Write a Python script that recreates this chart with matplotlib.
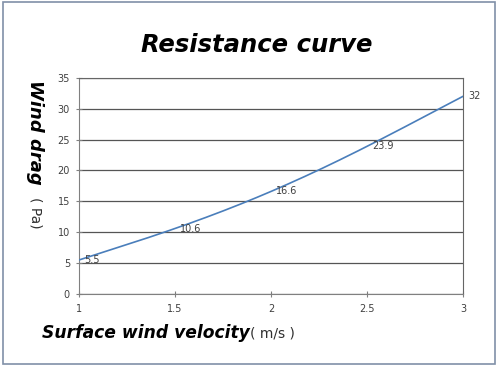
import numpy as np
import matplotlib
matplotlib.use("Agg")
import matplotlib.pyplot as plt
from matplotlib.patches import Rectangle

# data
velocity = [1, 1.5, 2, 2.5, 3]
drag = [5.5, 10.6, 16.6, 23.9, 32]
point_labels = ["5.5", "10.6", "16.6", "23.9", "32"]
x_ticks = [1, 1.5, 2, 2.5, 3]
x_tick_labels = ["1", "1.5", "2", "2.5", "3"]
y_ticks = [0, 5, 10, 15, 20, 25, 30, 35]

fig = plt.figure(figsize=(5, 3.67), dpi=100)
ax = fig.add_axes([0.158, 0.199, 0.768, 0.589])

# smoothed line through the points (like Excel's smoothed scatter)
coef = np.polyfit(velocity, drag, len(velocity) - 1)
xs = np.linspace(velocity[0], velocity[-1], 200)
ax.plot(xs, np.polyval(coef, xs), color="#4a7ebb", linewidth=1.2, zorder=3)

for x, y, lab in zip(velocity, drag, point_labels):
    ax.annotate(lab, (x, y), xytext=(3.5, 0), textcoords="offset points",
                ha="left", va="center", fontsize=7, color="#404040", zorder=4)

ax.set_xlim(1, 3)
ax.set_ylim(0, 35)
ax.set_xticks(x_ticks)
ax.set_xticklabels(x_tick_labels)
ax.set_yticks(y_ticks)
ax.tick_params(axis="both", labelsize=7, labelcolor="#404040", color="#808080",
               direction="inout", length=5, width=0.8)
ax.tick_params(axis="y", pad=4)
ax.tick_params(axis="x", pad=5)
ax.yaxis.grid(True, color="#555555", linewidth=0.9)
ax.set_axisbelow(True)
for side in ["left", "bottom"]:
    ax.spines[side].set_color("#808080")
for side in ["top", "right"]:
    ax.spines[side].set_color("#666666")

fig.text(0.514, 0.877, "Resistance curve", ha="center", va="center",
         fontsize=17.5, fontweight="bold", fontstyle="italic", color="black")

# y axis label, reading top to bottom
fig.text(0.07, 0.64, "Wind drag", rotation=-90, ha="center", va="center",
         fontsize=13, fontweight="bold", fontstyle="italic", color="black")
fig.text(0.072, 0.42, "( Pa)", rotation=-90, ha="center", va="center",
         fontsize=10, color="#303030")

# x axis label
fig.text(0.083, 0.092, "Surface wind velocity", ha="left", va="center",
         fontsize=12.3, fontweight="bold", fontstyle="italic", color="black")
fig.text(0.5, 0.092, "( m/s )", ha="left", va="center",
         fontsize=10, color="#303030")

# outer border
fig.patches.append(Rectangle((0.006, 0.008), 0.984, 0.987, transform=fig.transFigure,
                             fill=False, edgecolor="#8090a8", linewidth=1.2))

fig.savefig("out.png", dpi=100)
